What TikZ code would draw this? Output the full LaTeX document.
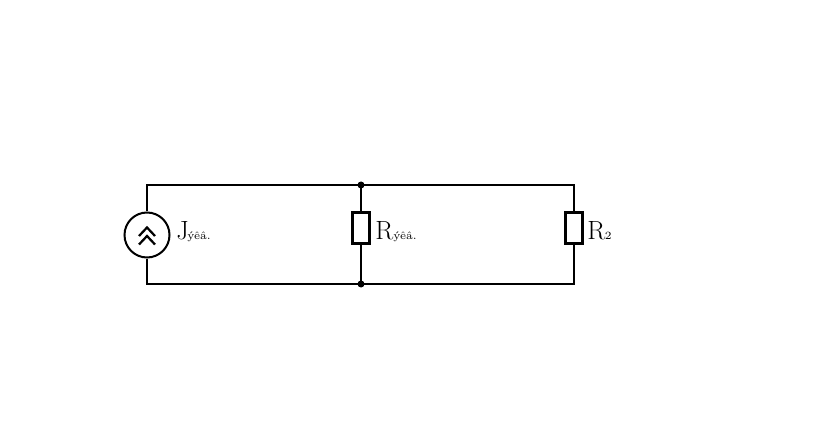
\documentclass[tikz,border=0pt]{standalone}
\usepackage{tikz}
\usetikzlibrary{
    positioning,
}

\begin{document}
\begin{tikzpicture}[node distance=2cm]

    \tikzstyle{wire}=[line width=0.04cm, draw=black]
    \tikzstyle{chevron}=[wire, line width=0.045cm]
    \tikzstyle{resistor}=[draw=black, line width=0.06cm, rectangle, fill=white, minimum width=0.33cm, minimum height=0.60cm, inner sep=0pt]
    \tikzstyle{source}=[wire, circle, fill=white, minimum size=0.90cm, inner sep=0pt]
    \tikzstyle{junction}=[circle, fill=black, minimum size=0.14cm, inner sep=0pt]
    \tikzstyle{caption}=[font=\fontsize{15}{16}\selectfont, inner sep=0pt, anchor=base west]
    \tikzstyle{sub}=[font=\fontsize{6.3}{8}\selectfont, inner sep=0pt, anchor=base west]

    % Spacing the nodes out
    \def \xleft {2.94}
    \def \xmid {7.22}
    \def \xright {11.48}
    \def \ytop {4.70}
    \def \ybot {2.72}

    \useasboundingbox (0,0) rectangle (16.64,8.4);

    % Corners and junctions
    \coordinate (TL) at (\xleft, \ytop);
    \coordinate (BL) at (\xleft, \ybot);
    \coordinate (TR) at (\xright, \ytop);
    \coordinate (BR) at (\xright, \ybot);
    \node at (\xmid, \ytop) [junction] (JT) {};
    \node at (\xmid, \ybot) [junction] (JB) {};

    % Elements
    \node at (\xleft, 3.70) [source] (Jeq) {};
    \node at (\xmid, 3.84) [resistor] (Req) {};
    \node at (\xright, 3.84) [resistor] (R2) {};

    % Wires
    \draw [wire] (Jeq.north) -- (TL) -- (JT.center) -- (TR) -- (R2.north);
    \draw [wire] (Jeq.south) -- (BL) -- (JB.center) -- (BR) -- (R2.south);
    \draw [wire] (JT.center) -- (Req.north);
    \draw [wire] (JB.center) -- (Req.south);

    % Arrows in the source
    \draw [chevron] ([shift={(-0.16,-0.02)}]Jeq.center) -- ([shift={(0,0.15)}]Jeq.center) -- ([shift={(0.16,-0.02)}]Jeq.center);
    \draw [chevron] ([shift={(-0.16,-0.19)}]Jeq.center) -- ([shift={(0,-0.02)}]Jeq.center) -- ([shift={(0.16,-0.19)}]Jeq.center);

    % Labels
    \node at (3.52, 3.62) [caption] (JeqL) {J};
    \node at (3.74, 3.62) [sub] (JeqS) {ýêâ.};
    \node at (7.50, 3.62) [caption] (ReqL) {R};
    \node at (7.86, 3.62) [sub] (ReqS) {ýêâ.};
    \node at (11.74, 3.62) [caption] (R2L) {R};
    \node at (12.09, 3.62) [sub] (R2S) {2};

\end{tikzpicture}
\end{document}
